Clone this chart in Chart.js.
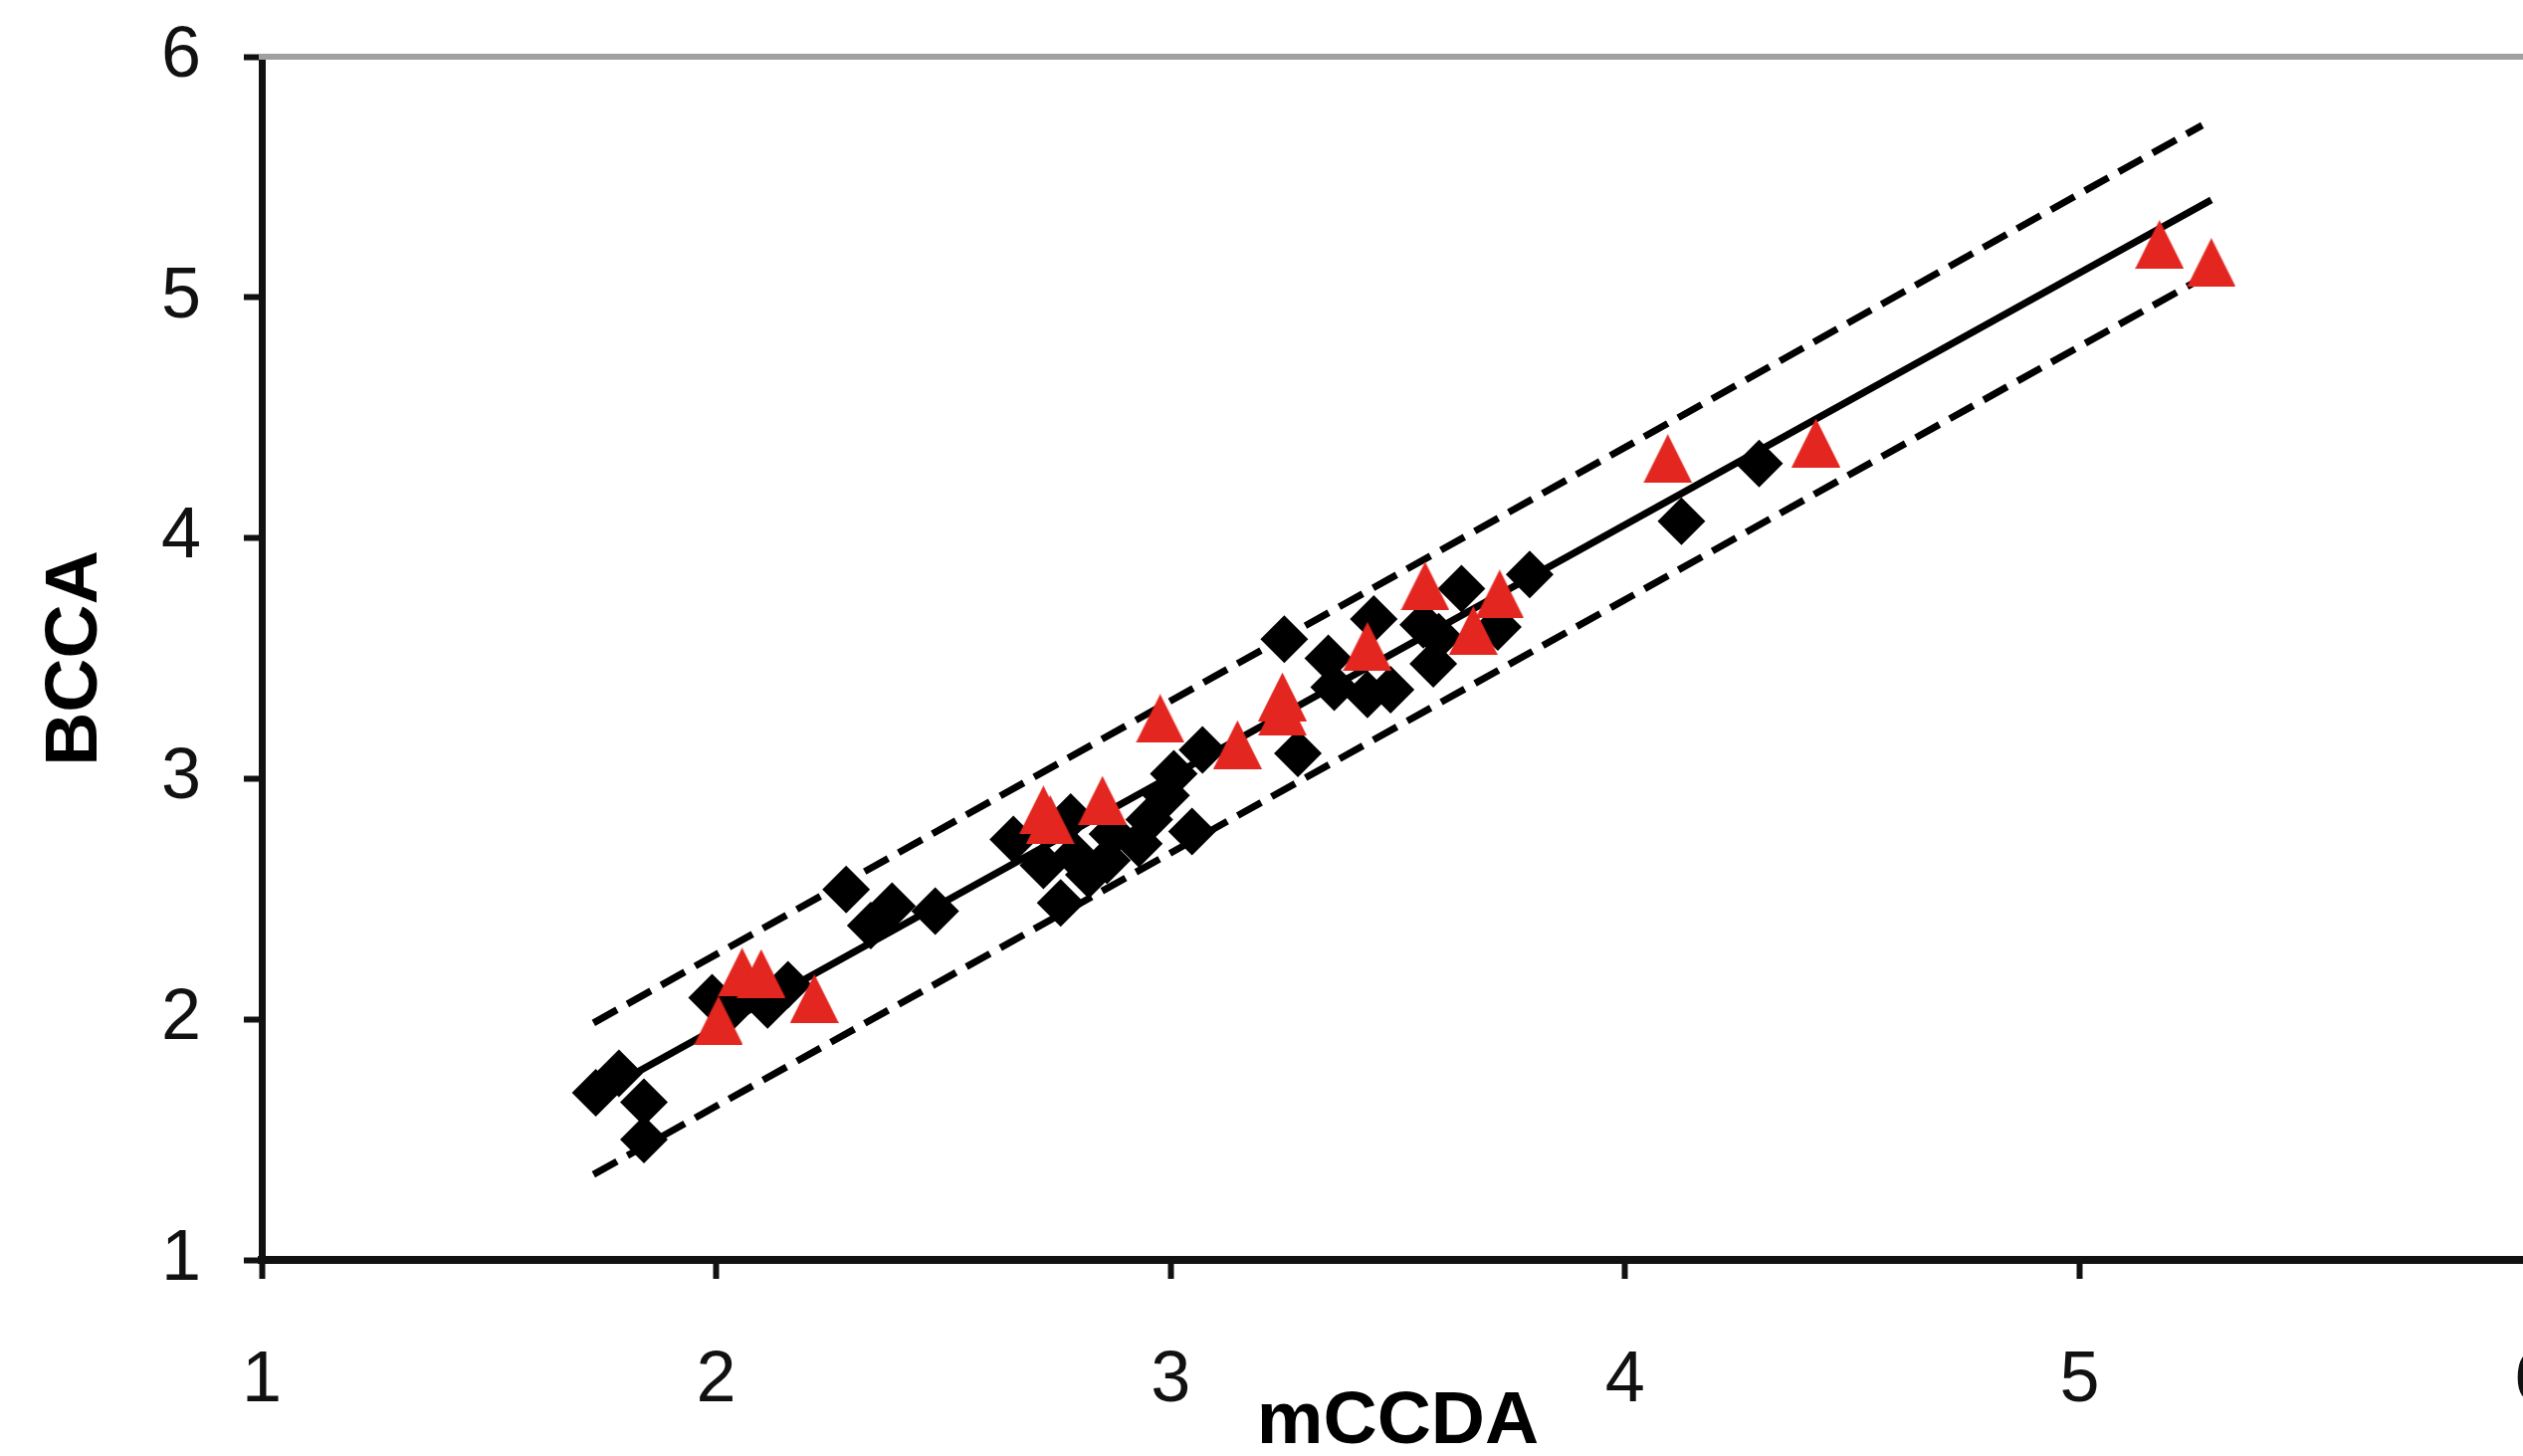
<!DOCTYPE html>
<html>
<head>
<meta charset="utf-8">
<script src="https://cdn.jsdelivr.net/npm/chart.js@4/dist/chart.umd.min.js"></script>
<style>
html,body{margin:0;padding:0;background:#fff;overflow:hidden;width:2535px;height:1463px}
#wrap{position:absolute;left:0;top:0;width:2700px;height:1463px}
</style>
</head>
<body>
<div id="wrap"><canvas id="c" width="2700" height="1463"></canvas></div>
<script>
// ---- data ----
const xTicks = [1, 2, 3, 4, 5, 6];
const yTicks = [1, 2, 3, 4, 5, 6];
const xTitle = 'mCCDA';
const yTitle = 'BCCA';

const diamondX = [1.735, 1.786, 1.841, 1.841, 1.991, 2.04, 2.113, 2.158, 2.286, 2.34, 2.387, 2.482,
  2.654, 2.72, 2.758, 2.78, 2.79, 2.82, 2.86, 2.872, 2.93, 2.953, 2.99, 3.007, 3.047, 3.07,
  3.25, 3.28, 3.347, 3.36, 3.433, 3.484, 3.447, 3.556, 3.578, 3.59, 3.64, 3.72, 3.79, 4.124, 4.295];
const diamondY = [1.695, 1.775, 1.656, 1.50, 2.09, 2.06, 2.06, 2.143, 2.54, 2.39, 2.47, 2.45,
  2.747, 2.64, 2.484, 2.84, 2.68, 2.60, 2.66, 2.77, 2.73, 2.83, 2.93, 3.02, 2.78, 3.12,
  3.58, 3.105, 3.50, 3.38, 3.35, 3.37, 3.663, 3.64, 3.477, 3.59, 3.79, 3.63, 3.848, 4.07, 4.31];

const triangleX = [2.005, 2.057, 2.099, 2.216, 2.72, 2.735, 2.85, 2.977, 3.147, 3.246, 3.246,
  3.433, 3.56, 3.666, 3.724, 4.094, 4.42, 5.176, 5.29];
const triangleY = [1.996, 2.196, 2.19, 2.086, 2.87, 2.83, 2.91, 3.25, 3.141, 3.34, 3.28,
  3.55, 3.80, 3.616, 3.767, 4.33, 4.395, 5.22, 5.145];

const fitX = [1.73, 5.29];
const fitY = [1.68, 5.405];
const upperX = [1.73, 5.27];
const upperY = [1.985, 5.715];
const lowerX = [1.73, 5.27];
const lowerY = [1.355, 5.08];

// ---- helpers ----
const pts = (xs, ys) => xs.map((x, i) => ({x: x, y: ys[i]}));
function makeTriangle(w, h, color) {
  const c = document.createElement('canvas');
  c.width = w; c.height = h;
  const g = c.getContext('2d');
  g.fillStyle = color;
  g.beginPath();
  g.moveTo(w / 2, 0);
  g.lineTo(w, h);
  g.lineTo(0, h);
  g.closePath();
  g.fill();
  return c;
}
const tri = makeTriangle(49, 49, '#E3261F');
const FONT = '"Liberation Sans", Arial, Helvetica, sans-serif';

const lineDs = (xs, ys, dash) => ({
  data: pts(xs, ys), showLine: true, pointRadius: 0, pointHoverRadius: 0,
  borderColor: '#000', borderWidth: 7, borderDash: dash, borderCapStyle: 'butt', fill: false
});

new Chart(document.getElementById('c'), {
  type: 'scatter',
  data: {
    datasets: [
      {data: pts(triangleX, triangleY), pointStyle: tri, pointRadius: 24, pointHoverRadius: 24,
       backgroundColor: '#E3261F', borderWidth: 0},
      {data: pts(diamondX, diamondY), pointStyle: 'rectRot', pointRadius: 24, pointHoverRadius: 24,
       backgroundColor: '#000', borderColor: '#000', borderWidth: 0},
      lineDs(fitX, fitY, []),
      lineDs(upperX, upperY, [27, 12]),
      lineDs(lowerX, lowerY, [27, 12])
    ]
  },
  options: {
    responsive: false,
    animation: false,
    devicePixelRatio: 1,
    layout: {padding: {top: 57, right: 154, left: 0, bottom: 0}},
    plugins: {legend: {display: false}, tooltip: {enabled: false}},
    scales: {
      x: {
        type: 'linear', position: 'bottom', min: 1, max: 6,
        afterBuildTicks: s => { s.ticks = xTicks.map(v => ({value: v})); },
        ticks: {font: {family: FONT, size: 72}, color: '#111', padding: 60, maxRotation: 0, autoSkip: false},
        grid: {display: true, drawOnChartArea: false, drawTicks: true, tickLength: 19, tickWidth: 6, tickColor: '#111'},
        border: {display: true, color: '#111', width: 8},
        title: {display: true, text: xTitle, color: '#000', padding: 0,
                font: {family: FONT, size: 75, weight: 'bold', lineHeight: 0.9}},
        afterFit: s => { s.height = 197; s.paddingLeft = 0; s.paddingRight = 0; }
      },
      y: {
        type: 'linear', position: 'left', min: 1, max: 6,
        afterBuildTicks: s => { s.ticks = yTicks.map(v => ({value: v})); },
        ticks: {font: {family: FONT, size: 72}, color: '#111', padding: 43, autoSkip: false},
        grid: {display: true, drawOnChartArea: false, drawTicks: true, tickLength: 18, tickWidth: 6, tickColor: '#111'},
        border: {display: true, color: '#111', width: 7},
        title: {display: true, text: yTitle, color: '#000', padding: {top: 31, bottom: 0},
                font: {family: FONT, size: 75, weight: 'bold', lineHeight: 1.2}},
        afterFit: s => { s.width = 263; s.paddingTop = 0; s.paddingBottom = 0; }
      },
      x2: {
        axis: 'x', type: 'linear', position: 'top', min: 1, max: 6,
        ticks: {display: false},
        grid: {display: true, drawOnChartArea: false, drawTicks: false},
        border: {display: true, color: '#a0a0a0', width: 6},
        afterFit: s => { s.height = 0; s.paddingLeft = 0; s.paddingRight = 0; }
      }
    }
  }
});
</script>
</body>
</html>
